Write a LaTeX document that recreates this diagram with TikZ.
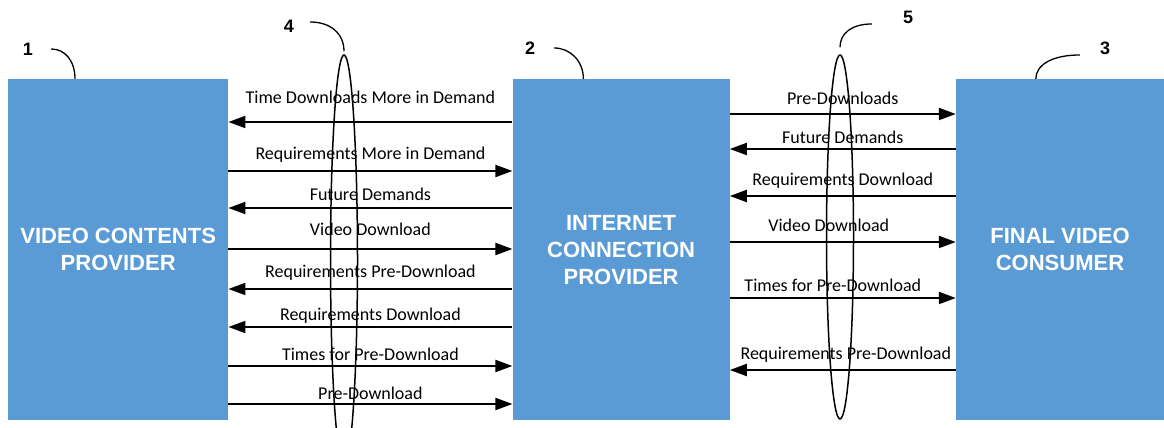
\documentclass[tikz,border=0pt]{standalone}
\usepackage{fontspec}
\setmainfont{Carlito}
\newfontfamily\arialfont{Liberation Sans}
\usetikzlibrary{shapes.geometric, arrows.meta, positioning}
\definecolor{boxblue}{RGB}{91,155,213}

\begin{document}
\begin{tikzpicture}[
    x=1pt, y=1pt,
    party/.style={rectangle, fill=boxblue, minimum height=341pt, inner sep=0pt, align=center, text=white, font=\arialfont\bfseries\fontsize{22}{27}\selectfont},
    msg/.style={-{Triangle[length=17pt,width=12pt]}, line width=2pt},
    lbl/.style={font=\fontsize{18}{20}\selectfont, inner sep=0pt},
    group/.style={ellipse, draw, line width=1.5pt, minimum width=27pt, inner sep=0pt},
    refnum/.style={font=\arialfont\bfseries\fontsize{18}{20}\selectfont, inner sep=0pt},
    hook/.style={line width=1.3pt}
]
\useasboundingbox (0,0) rectangle (1164,428);

% Parties
\node[party, minimum width=220pt, anchor=north west] (vcp) at (8,349) {VIDEO CONTENTS\\PROVIDER};
\node[party, minimum width=217pt, right=284pt of vcp] (icp) {INTERNET\\CONNECTION\\PROVIDER};
\node[party, minimum width=208pt, right=226pt of icp] (fvc) {FINAL VIDEO\\CONSUMER};

% Messages: content provider <-> connection provider
\draw[msg] (icp.west |- 0,306) -- node[lbl, yshift=25pt] {Time Downloads More in Demand} (vcp.east |- 0,306);
\draw[msg] (vcp.east |- 0,257) -- node[lbl, yshift=16pt] {Requirements More in Demand} (icp.west |- 0,257);
\draw[msg] (icp.west |- 0,220) -- node[lbl, yshift=14pt] {Future Demands} (vcp.east |- 0,220);
\draw[msg] (vcp.east |- 0,179) -- node[lbl, yshift=20pt] {Video Download} (icp.west |- 0,179);
\draw[msg] (icp.west |- 0,139) -- node[lbl, yshift=16pt] {Requirements Pre-Download} (vcp.east |- 0,139);
\draw[msg] (icp.west |- 0,101) -- node[lbl, yshift=11pt] {Requirements Download} (vcp.east |- 0,101);
\draw[msg] (vcp.east |- 0,62) -- node[lbl, yshift=12pt] {Times for Pre-Download} (icp.west |- 0,62);
\draw[msg] (vcp.east |- 0,24) -- node[lbl, yshift=11pt] {Pre-Download} (icp.west |- 0,24);

% Messages: connection provider <-> consumer
\draw[msg] (icp.east |- 0,314) -- node[lbl, yshift=16pt] {Pre-Downloads} (fvc.west |- 0,314);
\draw[msg] (fvc.west |- 0,279) -- node[lbl, yshift=12pt] {Future Demands} (icp.east |- 0,279);
\draw[msg] (fvc.west |- 0,232) -- node[lbl, yshift=15pt] {Requirements Download} (icp.east |- 0,232);
\draw[msg] (icp.east |- 0,186) -- node[lbl, yshift=17pt, xshift=-14pt] {Video Download} (fvc.west |- 0,186);
\draw[msg] (icp.east |- 0,130) -- node[lbl, yshift=13pt, xshift=-10pt] {Times for Pre-Download} (fvc.west |- 0,130);
\draw[msg] (fvc.west |- 0,58) -- node[lbl, yshift=15pt, xshift=3pt] {Requirements Pre-Download} (icp.east |- 0,58);

% Groupings
\node[group, minimum height=410pt] (grp4) at (344,168) {};
\node[group, minimum height=364pt] (grp5) at (840,191) {};

% Reference numerals
\node[refnum] (num1) at (28,379) {1};
\node[refnum] (num2) at (530,380) {2};
\node[refnum] (num3) at (1105,380) {3};
\node[refnum] (num4) at (289,402) {4};
\node[refnum] (num5) at (908,411) {5};
\draw[hook] ([xshift=18pt]num1.east) .. controls +(14,0) and +(0,18) .. ([xshift=67pt]vcp.north west);
\draw[hook] ([xshift=19pt]num2.east) .. controls +(16,0) and +(0,18) .. ([xshift=71pt]icp.north west);
\draw[hook] ([xshift=-20pt,yshift=-7pt]num3.west) .. controls +(-28,0) and +(0,14) .. ([xshift=80pt]fvc.north west);
\draw[hook] ([xshift=16pt,yshift=4pt]num4.east) .. controls +(20,0) and +(0,18) .. ([yshift=3pt]grp4.north);
\draw[hook] ([xshift=-31pt,yshift=-7pt]num5.west) .. controls +(-20,0) and +(0,14) .. ([yshift=7pt]grp5.north);

\end{tikzpicture}
\end{document}
